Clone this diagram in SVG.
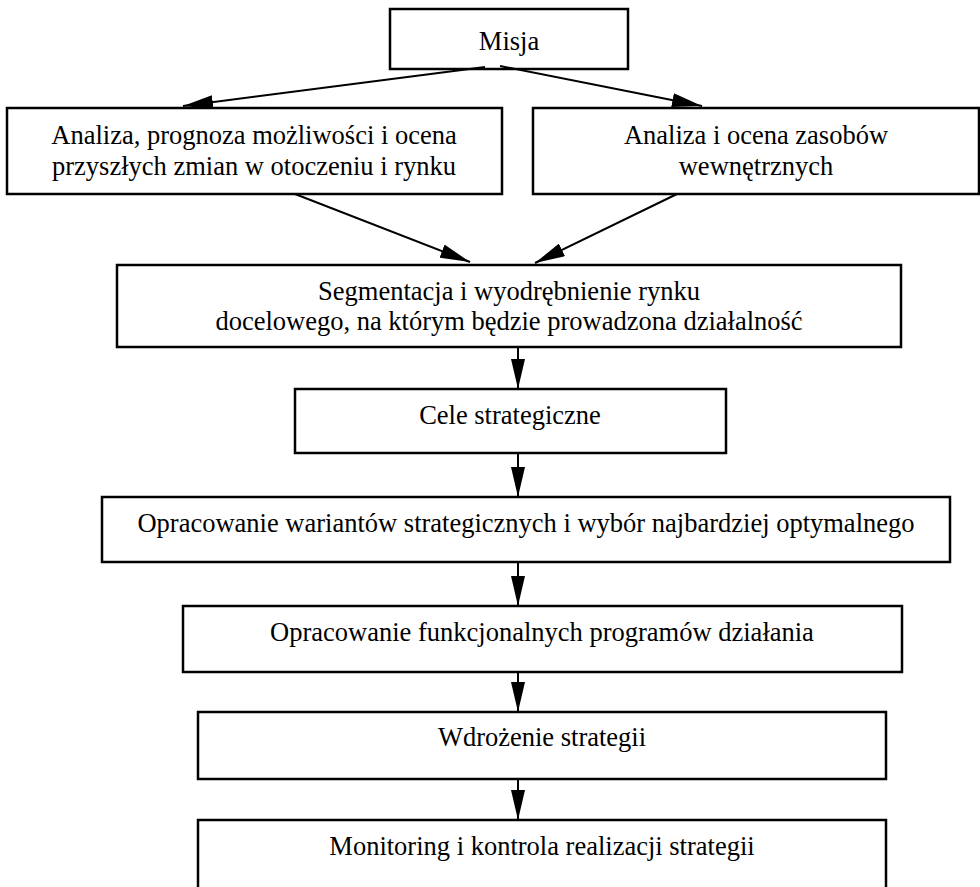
<svg xmlns="http://www.w3.org/2000/svg" width="980" height="887" viewBox="0 0 980 887">
<defs>
<marker id="ah" markerUnits="userSpaceOnUse" markerWidth="30" markerHeight="14" refX="30" refY="7" orient="auto">
<path d="M0,0 L30,7 L0,14 z" fill="#000"/>
</marker>
<style>
.box{fill:#fff;stroke:#000;stroke-width:2.5}
.t{font-family:"Liberation Serif","Times New Roman",serif;font-size:26.5px;fill:#000;text-anchor:middle}
.c{stroke:#000;stroke-width:2;fill:none;marker-end:url(#ah)}
</style>
</defs>
<rect width="980" height="887" fill="#fff"/>
<g id="n-misja"><rect class="box" x="390" y="9" width="238" height="60"/><text class="t" x="509" y="50">Misja</text></g>
<g id="n-analiza-otoczenia"><rect class="box" x="7" y="108" width="495" height="86"/><text class="t" x="254" y="144">Analiza, prognoza możliwości i ocena</text><text class="t" x="254" y="175">przyszłych zmian w otoczeniu i rynku</text></g>
<g id="n-analiza-zasobow"><rect class="box" x="533" y="108" width="446" height="86"/><text class="t" x="756" y="144">Analiza i ocena zasobów</text><text class="t" x="756" y="175">wewnętrznych</text></g>
<g id="n-segmentacja"><rect class="box" x="117" y="265" width="784" height="82"/><text class="t" x="509" y="300">Segmentacja i wyodrębnienie rynku</text><text class="t" x="509" y="330">docelowego, na którym będzie prowadzona działalność</text></g>
<g id="n-cele"><rect class="box" x="295" y="389" width="431" height="64"/><text class="t" x="510" y="424">Cele strategiczne</text></g>
<g id="n-warianty"><rect class="box" x="102" y="497" width="848" height="65"/><text class="t" x="526" y="532">Opracowanie wariantów strategicznych i wybór najbardziej optymalnego</text></g>
<g id="n-programy"><rect class="box" x="183" y="606" width="719" height="66"/><text class="t" x="542" y="641">Opracowanie funkcjonalnych programów działania</text></g>
<g id="n-wdrozenie"><rect class="box" x="198" y="712" width="688" height="67"/><text class="t" x="542" y="746">Wdrożenie strategii</text></g>
<g id="n-monitoring"><rect class="box" x="198" y="820" width="688" height="90"/><text class="t" x="542" y="855">Monitoring i kontrola realizacji strategii</text></g>
<g id="connectors">
<line class="c" x1="485" y1="67" x2="183" y2="106"/>
<line class="c" x1="500" y1="66" x2="702" y2="106"/>
<line class="c" x1="295" y1="194" x2="470" y2="262"/>
<line class="c" x1="677" y1="194" x2="535" y2="263"/>
<line class="c" x1="518" y1="347" x2="518" y2="389"/>
<line class="c" x1="518" y1="453" x2="518" y2="497"/>
<line class="c" x1="518" y1="562" x2="518" y2="606"/>
<line class="c" x1="518" y1="672" x2="518" y2="712"/>
<line class="c" x1="518" y1="779" x2="518" y2="820"/>
</g>
</svg>
